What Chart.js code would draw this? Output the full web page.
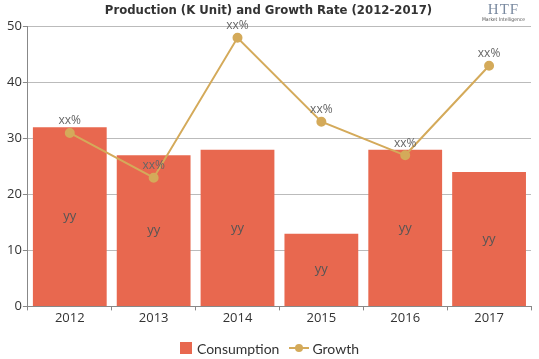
<!DOCTYPE html>
<html>
<head>
<meta charset="utf-8">
<script src="https://cdn.jsdelivr.net/npm/chart.js@4"></script>
<style>
  html, body { margin: 0; padding: 0; background: #fff; }
  #wrap { position: relative; width: 539px; height: 359px; }
  #logo { position: absolute; right: 14px; top: 2px; text-align: center; color: #7a8aa0; font-family: "Liberation Serif", serif; line-height: 1; }
  #logo .big { font-size: 15px; letter-spacing: 1px; }
  #logo .small { font-family: "DejaVu Sans Condensed", sans-serif; font-size: 5px; color: #555; }
  #legend { position: absolute; left: 0; right: 0; top: 338px; text-align: center; font-family: Lato, sans-serif; font-size: 14px; color: #333; }
  #legend span { display: inline-block; vertical-align: middle; }
  .sw-box { width: 12px; height: 12px; background: #e8684f; margin-right: 5px; }
  .sw-line { position: relative; width: 20px; height: 2px; background: #d4aa5a; margin: 0 3px 0 10px; }
  .sw-line::after { content: ""; position: absolute; left: 6px; top: -3px; width: 8px; height: 8px; border-radius: 50%; background: #d4aa5a; }
</style>
</head>
<body>
<div id="wrap">
  <canvas id="chart" width="539" height="359"></canvas>
  <div id="logo"><div class="big">HTF</div><div class="small">Market Intelligence</div></div>
  <div id="legend"><span class="sw-box"></span><span>Consumption</span><span class="sw-line"></span><span>Growth</span></div>
</div>
<script>
  const years = ["2012", "2013", "2014", "2015", "2016", "2017"];
  const consumption = [32, 27, 28, 13, 28, 24];
  const growth = [31, 23, 48, 33, 27, 43];
  const barLabels = ["yy", "yy", "yy", "yy", "yy", "yy"];
  const pointLabels = ["xx%", "xx%", "xx%", "xx%", "xx%", "xx%"];
  const yTicks = [0, 10, 20, 30, 40, 50];

  const BAR_COLOR = "#e8684f";
  const LINE_COLOR = "#d4aa5a";

  // draws the "yy" / "xx%" labels
  const valueLabels = {
    id: "valueLabels",
    afterDatasetsDraw(chart) {
      const ctx = chart.ctx;
      ctx.save();
      ctx.textAlign = "center";
      ctx.textBaseline = "middle";
      ctx.font = "13px 'Open Sans', sans-serif";
      ctx.fillStyle = "#555";
      chart.getDatasetMeta(1).data.forEach((b, i) => {
        ctx.fillText(barLabels[i], b.x, (b.y + b.base) / 2);
      });
      ctx.font = "12px 'Open Sans', sans-serif";
      ctx.fillStyle = "#666";
      chart.getDatasetMeta(0).data.forEach((p, i) => {
        ctx.fillText(pointLabels[i], p.x, p.y - 12);
      });
      ctx.restore();
    },
  };

  new Chart(document.getElementById("chart"), {
    data: {
      labels: years,
      datasets: [
        {
          type: "line",
          label: "Growth",
          data: growth,
          borderColor: LINE_COLOR,
          backgroundColor: LINE_COLOR,
          borderWidth: 2,
          pointRadius: 4,
          pointHoverRadius: 4,
          tension: 0,
          order: 0,
        },
        {
          type: "bar",
          label: "Consumption",
          data: consumption,
          backgroundColor: BAR_COLOR,
          borderWidth: 0,
          categoryPercentage: 1,
          barPercentage: 0.88,
          order: 1,
        },
      ],
    },
    options: {
      responsive: false,
      animation: false,
      layout: { padding: { left: 6, right: 8, top: 0, bottom: 33 } },
      scales: {
        x: {
          grid: { drawOnChartArea: false, tickLength: 4, color: "#888" },
          border: { color: "#888" },
          ticks: { color: "#333", font: { family: "'Open Sans', sans-serif", size: 13 }, padding: 0 },
        },
        y: {
          min: 0,
          max: 50,
          afterBuildTicks(axis) {
            axis.ticks = yTicks.map((v) => ({ value: v }));
          },
          grid: { color: "#bbb", tickLength: 5, tickColor: "#888" },
          border: { color: "#888" },
          ticks: { color: "#333", font: { family: "'Open Sans', sans-serif", size: 13 }, padding: 1 },
        },
      },
      plugins: {
        title: {
          display: true,
          text: "Production (K Unit) and Growth Rate (2012-2017)",
          color: "#333",
          font: { family: "'DejaVu Sans Condensed', sans-serif", size: 13, weight: "bold" },
          padding: { top: 3, bottom: 8 },
        },
        legend: { display: false },
        tooltip: { enabled: false },
      },
    },
    plugins: [valueLabels],
  });
</script>
</body>
</html>
